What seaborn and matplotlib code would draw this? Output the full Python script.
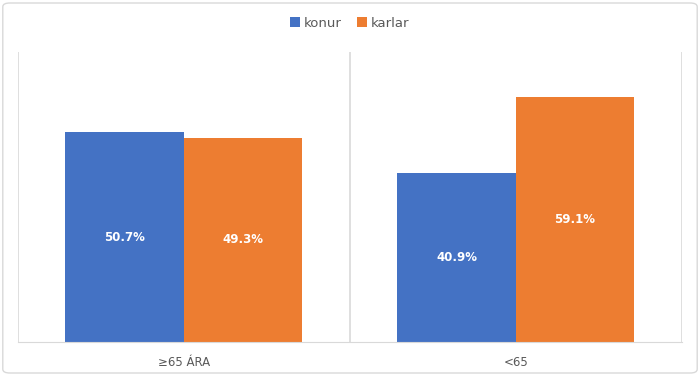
import pandas as pd
import seaborn as sns
import matplotlib.pyplot as plt
from matplotlib.patches import FancyBboxPatch

# data
categories = ["≥65 ÁRA", "<65"]
series = ["konur", "karlar"]
konur = [50.7, 40.9]
karlar = [49.3, 59.1]
colors = ["#4472C4", "#ED7D31"]

df = pd.DataFrame({
    "hópur": categories * 2,
    "kyn": [series[0]] * len(categories) + [series[1]] * len(categories),
    "hlutfall": konur + karlar,
})

sns.set_style("white")
plt.rcParams["font.family"] = ["DejaVu Sans"]

fig = plt.figure(figsize=(7, 3.76), dpi=100)
ax = fig.add_axes([0.0257, 0.0904, 0.948, 0.771])

sns.barplot(data=df, x="hópur", y="hlutfall", hue="kyn", order=categories,
            hue_order=series, palette=colors, width=0.714, saturation=1,
            edgecolor="none", ax=ax)

for cont in ax.containers:
    ax.bar_label(cont, labels=[f"{b.get_height():.1f}%" for b in cont],
                 label_type="center", color="white", fontsize=8.5,
                 fontweight="bold")

ax.set_ylim(0, 70)
ax.set_xlim(-0.5, len(categories) - 0.5)
ax.set_yticks([])
ax.set_xlabel("")
ax.set_ylabel("")
for s in ["top", "right", "left"]:
    ax.spines[s].set_visible(False)
ax.spines["bottom"].set_color("#d9d9d9")
ax.tick_params(axis="x", length=0, pad=10, labelsize=8.5, labelcolor="#595959")

# category separators
for xs in [-0.5, 0.5, 1.5]:
    ax.axvline(xs, color="#d9d9d9", lw=1.2, zorder=0)

leg = ax.legend(loc="center", bbox_to_anchor=(0.5, 1.10), ncol=2,
                frameon=False, fontsize=9.5, handlelength=0.7, handleheight=0.7,
                handletextpad=0.3, columnspacing=1.2)
for t in leg.get_texts():
    t.set_color("#595959")

border = FancyBboxPatch((0.004, 0.008), 0.992, 0.984,
                        boxstyle="round,pad=0,rounding_size=0.01",
                        transform=fig.transFigure, facecolor="none",
                        edgecolor="#d9d9d9", lw=1)
fig.patches.append(border)

fig.savefig("out.png", dpi=100)
